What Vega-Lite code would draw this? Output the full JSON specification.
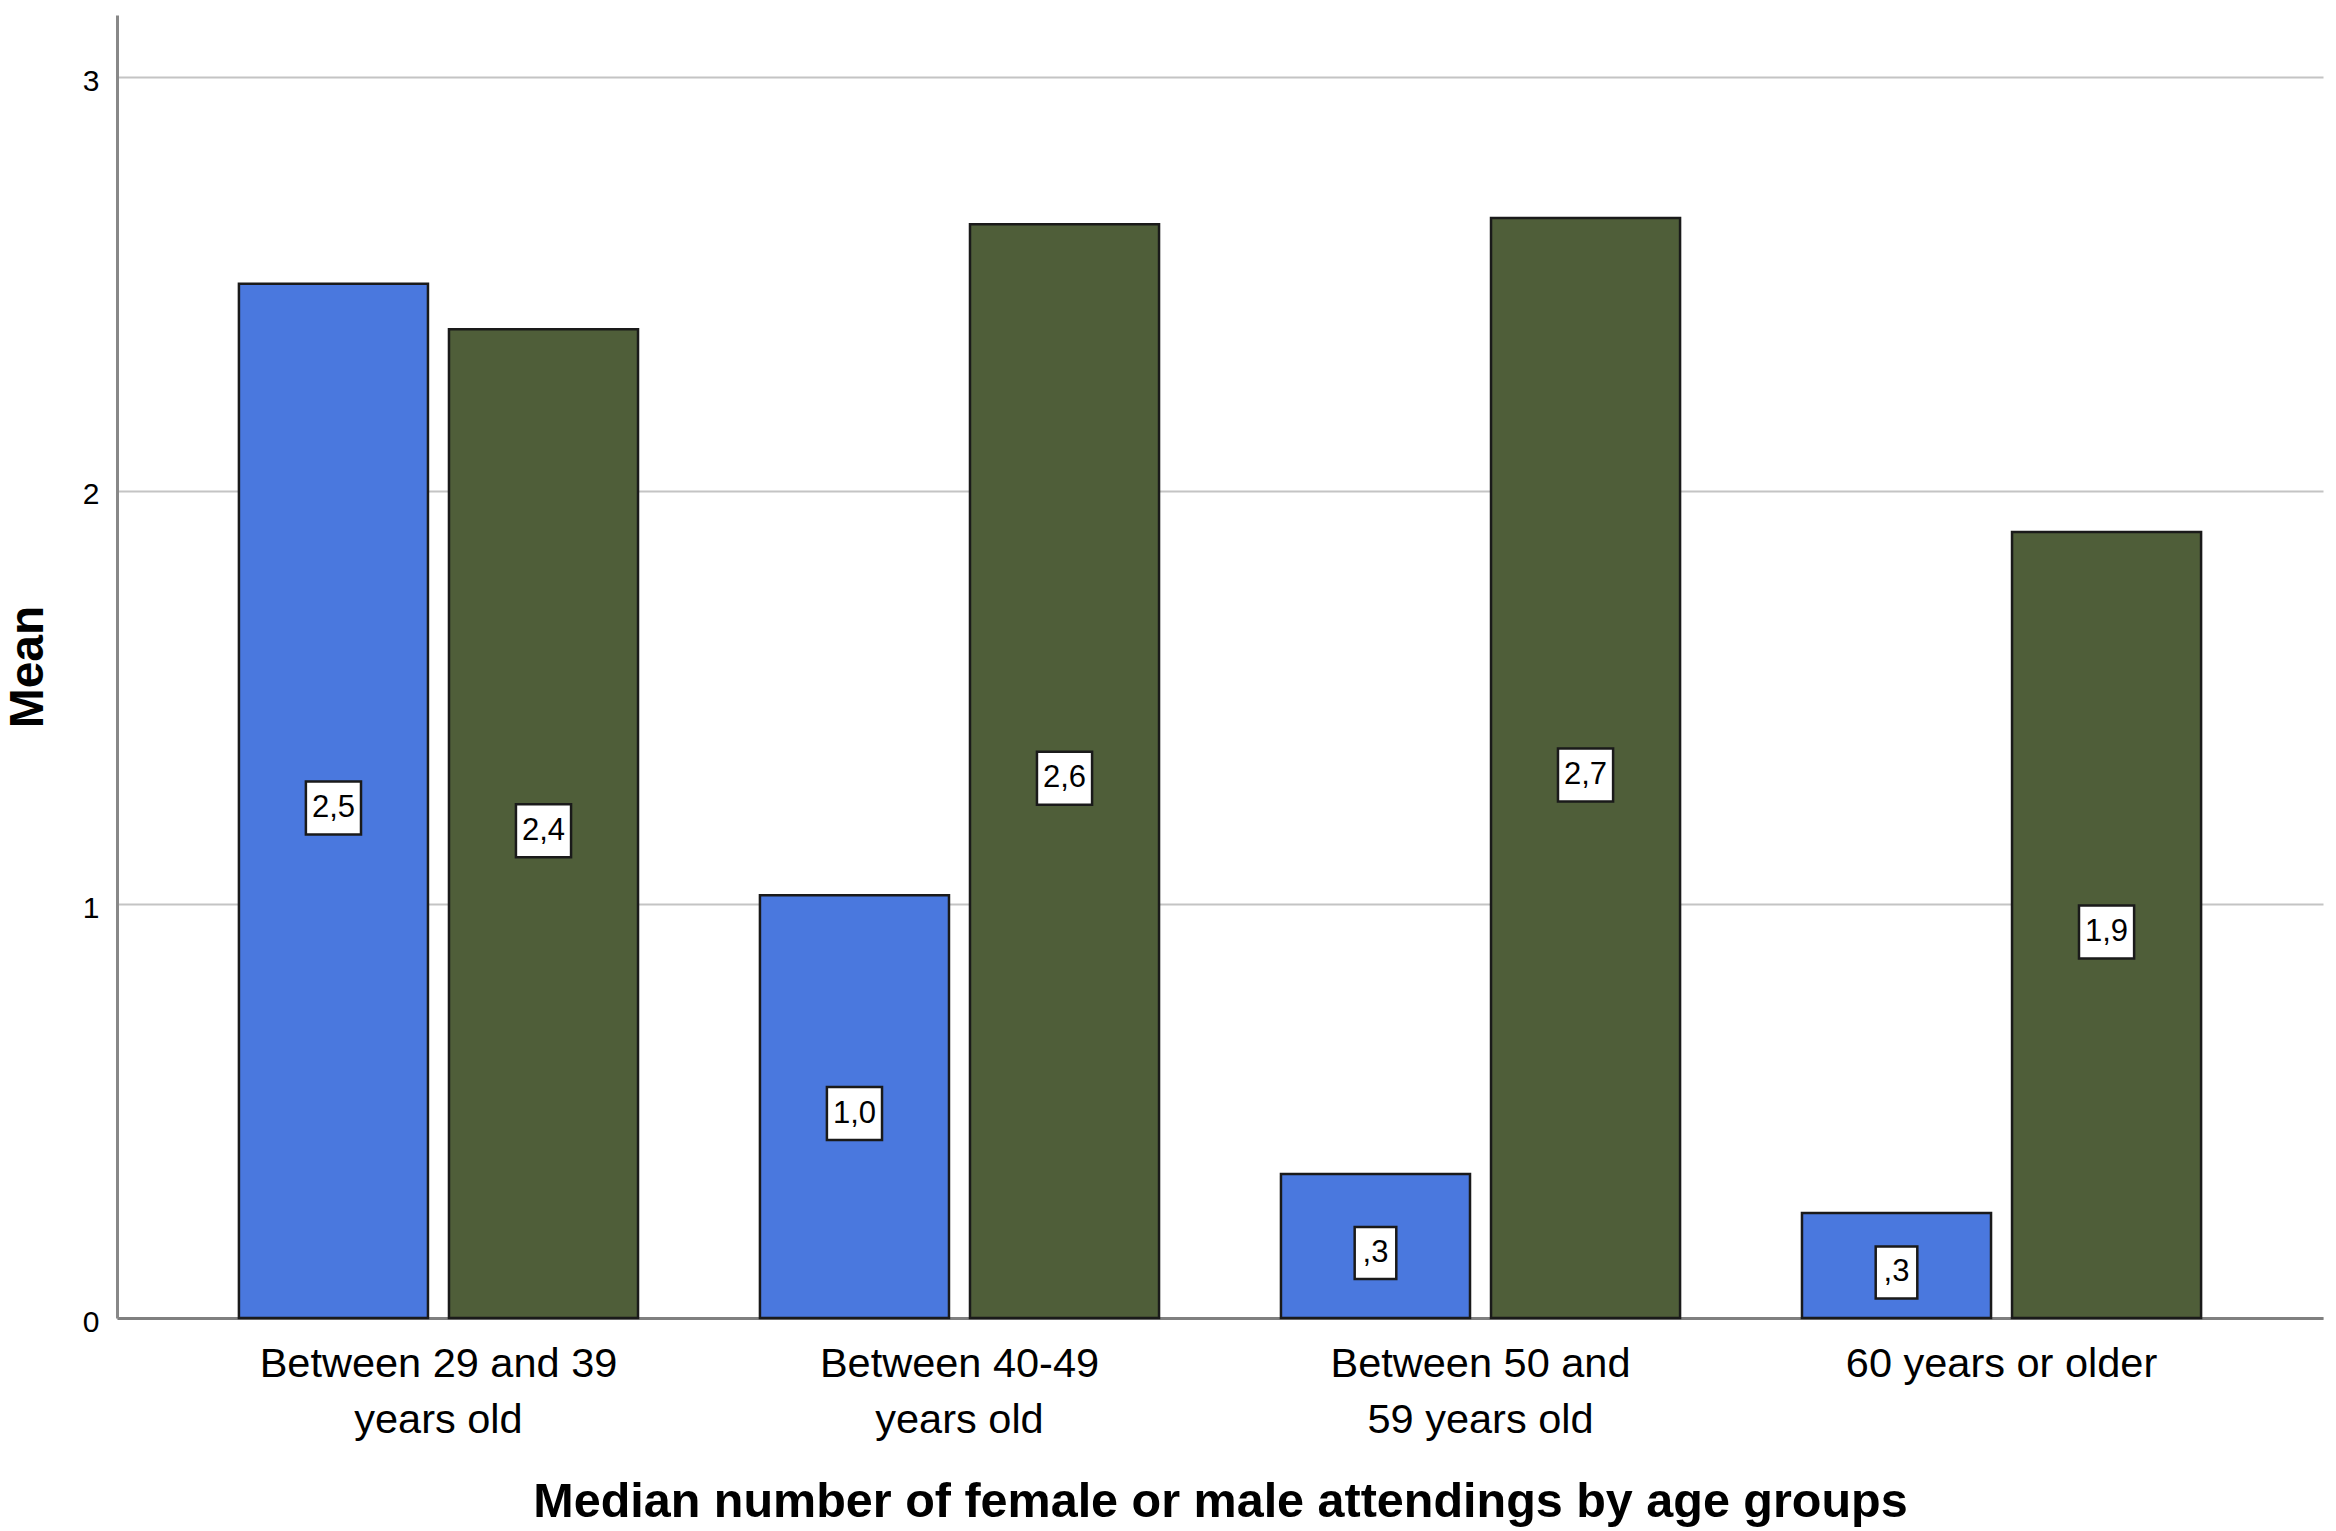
{
  "$schema": "https://vega.github.io/schema/vega-lite/v6.json",
  "width": 2206,
  "height": 1303,
  "autosize": {"type": "none"},
  "padding": {"left": 117, "top": 15, "right": 13, "bottom": 213},
  "background": "white",
  "config": {"view": {"stroke": null}, "font": "Liberation Sans"},
  "data": {
    "values": [
      {"age_group": "Between 29 and 39 years old", "sex": "Female", "mean": 2.5, "label": "2,5"},
      {"age_group": "Between 29 and 39 years old", "sex": "Male", "mean": 2.39, "label": "2,4"},
      {"age_group": "Between 40-49 years old", "sex": "Female", "mean": 1.022, "label": "1,0"},
      {"age_group": "Between 40-49 years old", "sex": "Male", "mean": 2.644, "label": "2,6"},
      {"age_group": "Between 50 and 59 years old", "sex": "Female", "mean": 0.348, "label": ",3"},
      {"age_group": "Between 50 and 59 years old", "sex": "Male", "mean": 2.659, "label": "2,7"},
      {"age_group": "60 years or older", "sex": "Female", "mean": 0.254, "label": ",3"},
      {"age_group": "60 years or older", "sex": "Male", "mean": 1.9, "label": "1,9"}
    ]
  },
  "encoding": {
    "x": {
      "field": "age_group",
      "type": "nominal",
      "sort": ["Between 29 and 39 years old", "Between 40-49 years old", "Between 50 and 59 years old", "60 years or older"],
      "scale": {"paddingInner": 0.234, "paddingOuter": 0.234},
      "title": "Median number of female or male attendings by age groups",
      "axis": {
        "labelExpr": "datum.value == 'Between 29 and 39 years old' ? ['Between 29 and 39', 'years old'] : datum.value == 'Between 40-49 years old' ? ['Between 40-49', 'years old'] : datum.value == 'Between 50 and 59 years old' ? ['Between 50 and', '59 years old'] : datum.label",
        "labelAngle": 0,
        "ticks": false,
        "grid": false,
        "domainColor": "#808080",
        "domainWidth": 3,
        "labelFont": "Liberation Sans",
        "labelFontSize": 41.5,
        "labelLineHeight": 56,
        "labelPadding": 25,
        "labelColor": "black",
        "labelLimit": 0,
        "titleFont": "Liberation Sans",
        "titleFontSize": 48.5,
        "titleFontWeight": "bold",
        "titleColor": "black",
        "titlePadding": 38
      }
    },
    "xOffset": {"field": "sex", "type": "nominal", "sort": ["Female", "Male"], "scale": {"paddingInner": 0.1}}
  },
  "layer": [
    {
      "mark": {"type": "bar", "stroke": "#1a1a1a", "strokeWidth": 2.5},
      "encoding": {
        "y": {
          "field": "mean",
          "type": "quantitative",
          "scale": {"domain": [0, 3.15], "nice": false},
          "title": "Mean",
          "axis": {
            "values": [0, 1, 2, 3],
            "ticks": false,
            "grid": true,
            "gridColor": "#c4c4c4",
            "gridWidth": 2,
            "domainColor": "#888888",
            "domainWidth": 3,
            "labelFont": "Liberation Sans",
            "labelFontSize": 30,
            "labelPadding": 18,
            "labelOffset": 4,
            "labelColor": "black",
            "titleFont": "Liberation Sans",
            "titleFontSize": 48,
            "titleFontWeight": "bold",
            "titleColor": "black",
            "titlePadding": 30
          }
        },
        "color": {
          "field": "sex",
          "type": "nominal",
          "scale": {"domain": ["Female", "Male"], "range": ["#4a78de", "#4f5e39"]},
          "legend": null
        }
      }
    },
    {
      "transform": [{"filter": "datum.label != ',3'"}],
      "mark": {"type": "point", "shape": "M-1.04,-1H1.04V1H-1.04Z", "size": 2809, "filled": true, "fill": "white", "stroke": "#1a1a1a", "strokeWidth": 2.5, "opacity": 1, "yOffset": 7},
      "encoding": {
        "y": {"field": "mean", "type": "quantitative", "scale": {"domain": [0, 6.3], "nice": false}, "axis": null}
      }
    },
    {
      "transform": [{"filter": "datum.label == ',3'"}],
      "mark": {"type": "point", "shape": "M-0.8,-1H0.8V1H-0.8Z", "size": 2704, "filled": true, "fill": "white", "stroke": "#1a1a1a", "strokeWidth": 2.5, "opacity": 1, "yOffset": 7},
      "encoding": {
        "y": {"field": "mean", "type": "quantitative", "scale": {"domain": [0, 6.3], "nice": false}, "axis": null}
      }
    },
    {
      "mark": {"type": "text", "fontSize": 31, "font": "Liberation Sans", "color": "black", "baseline": "middle", "align": "center", "yOffset": 7},
      "encoding": {
        "y": {"field": "mean", "type": "quantitative", "scale": {"domain": [0, 6.3], "nice": false}, "axis": null},
        "text": {"field": "label"}
      }
    }
  ],
  "resolve": {"scale": {"y": "independent"}}
}
